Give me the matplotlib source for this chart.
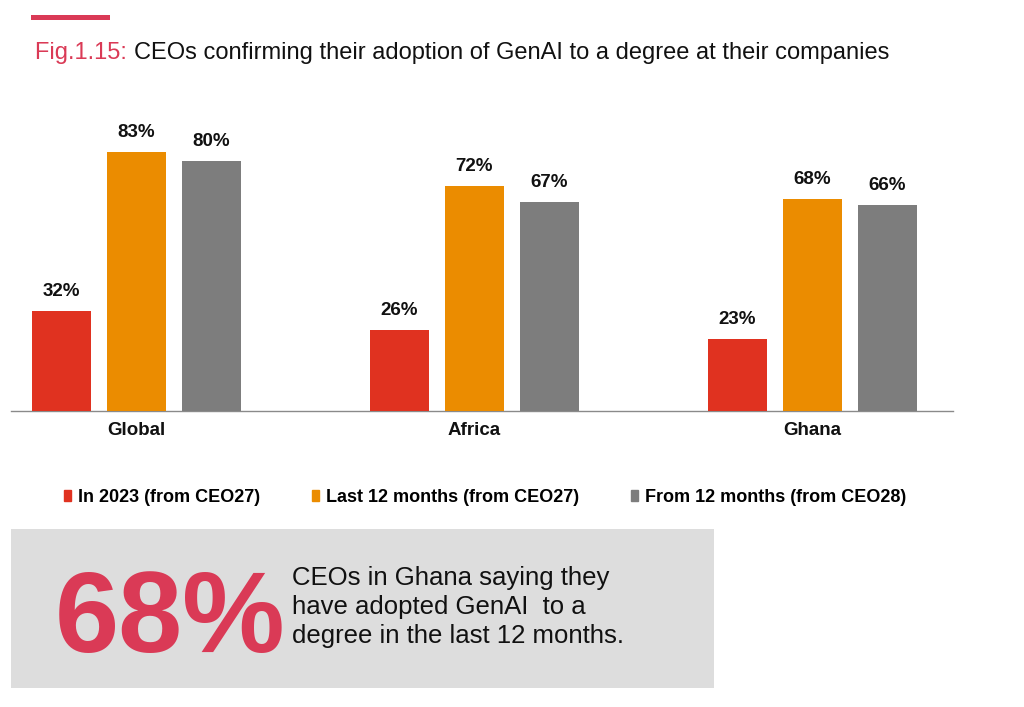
import numpy as np
import matplotlib.pyplot as plt
import matplotlib.patches as mpatches

plt.rcParams['font.family'] = ['Liberation Sans', 'DejaVu Sans']

# ── DATA ──────────────────────────────────────────────────────────────────────
regions     = ['Global', 'Africa', 'Ghana']
in_2023     = [32, 26, 23]
last_12m    = [83, 72, 68]
from_12m    = [80, 67, 66]
series_lbls = ['In 2023 (from CEO27)', 'Last 12 months (from CEO27)',
               'From 12 months (from CEO28)']

RED    = '#e03220'
ORANGE = '#eb8c00'
GREY   = '#7d7d7d'
PINK   = '#da3a56'

W, H = 1024, 707
fig = plt.figure(figsize=(W / 100, H / 100), dpi=100)
fig.patch.set_facecolor('white')


def fx(px):  # pixel x -> figure fraction
    return px / W


def fy(py):  # pixel y (from top) -> figure fraction
    return 1 - py / H


# ── HEADER ────────────────────────────────────────────────────────────────────
fig.patches.append(mpatches.Rectangle((fx(31), fy(20)), fx(79), 5 / H,
                                      transform=fig.transFigure,
                                      color=PINK, lw=0))
t = fig.text(fx(35), fy(53), 'Fig.1.15: ', color=PINK, fontsize=17,
             va='center', ha='left')
fig.canvas.draw()
bb = t.get_window_extent()
fig.text(bb.x1 / W, fy(53),
         'CEOs confirming their adoption of GenAI to a degree at their companies',
         color='#111111', fontsize=17, va='center', ha='left')

# ── BARS ──────────────────────────────────────────────────────────────────────
ax = fig.add_axes([fx(11), fy(411), fx(942), 312 / H])
x = np.arange(len(regions))
off, bw = 0.222, 0.175
for vals, col, dx in [(in_2023, RED, -off), (last_12m, ORANGE, 0), (from_12m, GREY, off)]:
    bars = ax.bar(x + dx, vals, width=bw, color=col, zorder=3)
    ax.bar_label(bars, labels=[f'{v}%' for v in vals], padding=8,
                 fontsize=13.5, fontweight='bold', color='#111111')

ax.set_xlim(-0.371, 2.416)
ax.set_ylim(0, 100)
ax.set_xticks(x)
ax.set_xticklabels(regions, fontsize=13.5, fontweight='bold', color='#111111')
ax.tick_params(axis='x', length=0, pad=8)
ax.set_yticks([])
for s in ['top', 'right', 'left']:
    ax.spines[s].set_visible(False)
ax.spines['bottom'].set_color('#8a8a8a')
ax.spines['bottom'].set_linewidth(1.0)

# ── LEGEND ────────────────────────────────────────────────────────────────────
handles = [mpatches.Patch(color=c, label=l)
           for c, l in zip([RED, ORANGE, GREY], series_lbls)]
fig.legend(handles=handles, loc='center', bbox_to_anchor=(fx(485), fy(497)),
           ncol=3, frameon=False, handlelength=0.4, handleheight=0.55,
           handletextpad=0.35, columnspacing=2.9,
           prop={'size': 13, 'weight': 'bold'})

# ── CALLOUT BOX ───────────────────────────────────────────────────────────────
fig.patches.append(mpatches.Rectangle((fx(11), fy(688)), fx(703), 159 / H,
                                      transform=fig.transFigure,
                                      color='#dddddd', lw=0))
fig.text(fx(55), fy(652), '68%', color=PINK, fontsize=83, fontweight='bold',
         va='baseline', ha='left')
fig.text(fx(292), fy(607),
         'CEOs in Ghana saying they\nhave adopted GenAI  to a\ndegree in the last 12 months.',
         color='#111111', fontsize=18.5, va='center', ha='left', linespacing=1.24)

fig.savefig('out.png', dpi=100, facecolor=fig.get_facecolor())
